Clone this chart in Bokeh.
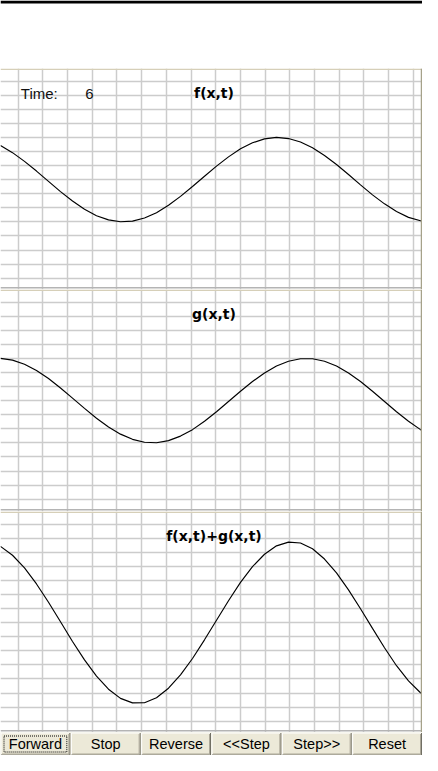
from bokeh.plotting import figure
from bokeh.layouts import column
from bokeh.models import Range1d, Span, Label, Grid, FixedTicker
from bokeh.embed import file_html
from bokeh.resources import INLINE
from bokeh.core.properties import value

# ---------------- data ----------------
x_pos = [0, 12, 24, 36, 48, 60, 72, 84, 96, 108, 120, 132, 144, 156, 168, 180,
         192, 204, 216, 228, 240, 252, 264, 276, 288, 300, 312, 324, 336, 348,
         360, 372, 384, 396, 408, 420, 432]

f_vals = [2.42, 1.92, 1.30, 0.61, -0.12, -0.85, -1.52, -2.10, -2.56, -2.86, -2.99,
          -2.95, -2.73, -2.35, -1.82, -1.19, -0.49, 0.24, 0.96, 1.62, 2.19, 2.62,
          2.90, 3.00, 2.92, 2.68, 2.27, 1.72, 1.08, 0.37, -0.37, -1.08, -1.72,
          -2.27, -2.68, -2.92, -3.00]

g_vals = [3.00, 2.88, 2.59, 2.14, 1.57, 0.90, 0.18, -0.55, -1.25, -1.87, -2.38,
          -2.75, -2.96, -2.99, -2.84, -2.52, -2.06, -1.46, -0.79, -0.06, 0.67, 1.36,
          1.96, 2.46, 2.80, 2.98, 2.98, 2.80, 2.46, 1.96, 1.36, 0.67, -0.06, -0.79,
          -1.46, -2.06, -2.52]

sum_vals = [5.42, 4.79, 3.89, 2.75, 1.45, 0.06, -1.34, -2.65, -3.80, -4.73, -5.38,
            -5.70, -5.69, -5.34, -4.66, -3.71, -2.55, -1.22, 0.17, 1.56, 2.86, 3.98,
            4.86, 5.46, 5.72, 5.66, 5.25, 4.52, 3.54, 2.33, 0.99, -0.41, -1.78, -3.06,
            -4.14, -4.98, -5.52]

time_label = "Time:"
time_value = "6"
panel_titles = ["f(x,t)", "g(x,t)", "f(x,t)+g(x,t)"]
button_labels = ["Forward", "Stop", "Reverse", "<<Step", "Step>>", "Reset"]

# ---------------- layout constants ----------------
W = 422
PPU = 14.07           # pixels per vertical grid unit
Y_TOP = 7.90
GRID_COLOR = "#CCCCCC"
TAN = "#D6CFB8"
EDGE_GRAY = "#B4B4B4"
VGRID = [17.7 + 24.69 * k for k in range(17)]
HGRID = list(range(-7, 8))


def base_fig(h, yr, bg="white"):
    p = figure(width=W, height=h, x_range=Range1d(0, W), y_range=yr,
               x_axis_location=None, y_axis_location=None,
               toolbar_location=None, output_backend="svg", min_border=0,
               outline_line_color=None, background_fill_color=bg,
               border_fill_color=bg)
    p.title.visible = False
    p.grid.visible = False
    return p


def make_panel(h, yvals, title, show_time=False):
    y_bot = Y_TOP - h / PPU
    p = base_fig(h, Range1d(y_bot, Y_TOP))
    p.add_layout(Grid(dimension=0, ticker=FixedTicker(ticks=VGRID),
                      grid_line_color=GRID_COLOR, grid_line_width=1.5))
    p.add_layout(Grid(dimension=1, ticker=FixedTicker(ticks=HGRID),
                      grid_line_color=GRID_COLOR, grid_line_width=1.5))
    p.add_layout(Span(location=Y_TOP - 0.8 / PPU, dimension="width",
                      line_color=TAN, line_width=1.5))
    p.add_layout(Span(location=y_bot + 1.8 / PPU, dimension="width",
                      line_color=EDGE_GRAY, line_width=1.5))
    p.add_layout(Span(location=W - 1, dimension="height",
                      line_color="#A6A28A", line_width=1.5))
    p.line(x_pos, yvals, line_color="black", line_width=1.15)
    p.add_layout(Label(x=213.5, y=h - 24.5, x_units="screen", y_units="screen",
                       text=title, text_font="DejaVu Sans",
                       text_font_style="bold", text_font_size="14px",
                       text_align="center", text_baseline="alphabetic",
                       text_color="black"))
    if show_time:
        p.add_layout(Label(x=20.3, y=h - 25, x_units="screen", y_units="screen",
                           text=time_label, text_font="Liberation Sans",
                           text_font_size="15px", text_baseline="alphabetic",
                           text_color="#111111"))
        p.add_layout(Label(x=84.7, y=h - 25, x_units="screen", y_units="screen",
                           text=time_value, text_font="Liberation Sans",
                           text_font_size="15px", text_baseline="alphabetic",
                           text_color="#111111"))
    return p


# header with the black rule
HH = 68
header = base_fig(HH, Range1d(0, HH))
header.add_layout(Span(location=HH - 1.5, dimension="width",
                       line_color="black", line_width=3))

p1 = make_panel(221, f_vals, panel_titles[0], show_time=True)
p2 = make_panel(222, g_vals, panel_titles[1])
p3 = make_panel(221, sum_vals, panel_titles[2])

# button strip
BH = 23
bw = W / len(button_labels)
btn = base_fig(BH, Range1d(0, BH), bg="#ECE9D8")
lefts = [i * bw + 0.5 for i in range(len(button_labels))]
rights = [(i + 1) * bw - 1.0 for i in range(len(button_labels))]
centers = [(l + r) / 2 for l, r in zip(lefts, rights)]
btn.quad(left=lefts, right=rights, bottom=[0.5] * 6, top=[BH - 0.5] * 6,
         fill_color="#ECE9D8", line_color=None)
# highlights (top/left)
btn.segment(x0=lefts, y0=[BH - 0.5] * 6, x1=rights, y1=[BH - 0.5] * 6,
            line_color="white", line_width=1)
btn.segment(x0=lefts, y0=[0.5] * 6, x1=lefts, y1=[BH - 0.5] * 6,
            line_color="white", line_width=1)
# shadows (bottom/right)
btn.segment(x0=lefts, y0=[0.5] * 6, x1=rights, y1=[0.5] * 6,
            line_color="#716F64", line_width=1)
btn.segment(x0=rights, y0=[0.5] * 6, x1=rights, y1=[BH - 0.5] * 6,
            line_color="#716F64", line_width=1)
btn.segment(x0=[l + 1 for l in lefts], y0=[1.5] * 6, x1=[r - 1 for r in rights],
            y1=[1.5] * 6, line_color="#ACA899", line_width=1)
btn.segment(x0=[r - 1 for r in rights], y0=[1.5] * 6, x1=[r - 1 for r in rights],
            y1=[BH - 1.5] * 6, line_color="#ACA899", line_width=1)
# focus rectangle on the first button
btn.quad(left=[lefts[0] + 3], right=[rights[0] - 3], bottom=[3.5], top=[BH - 3.5],
         fill_color=None, line_color="black", line_width=1, line_dash="1 1")
btn.text(x=centers, y=[BH / 2] * 6, text=button_labels,
         text_font=value("Liberation Sans"), text_font_size="14.5px",
         text_align="center", text_baseline="middle", text_color="black")

layout = column(header, p1, p2, p3, btn, spacing=0)

with open("out.html", "w") as fh:
    fh.write(file_html(layout, INLINE))
